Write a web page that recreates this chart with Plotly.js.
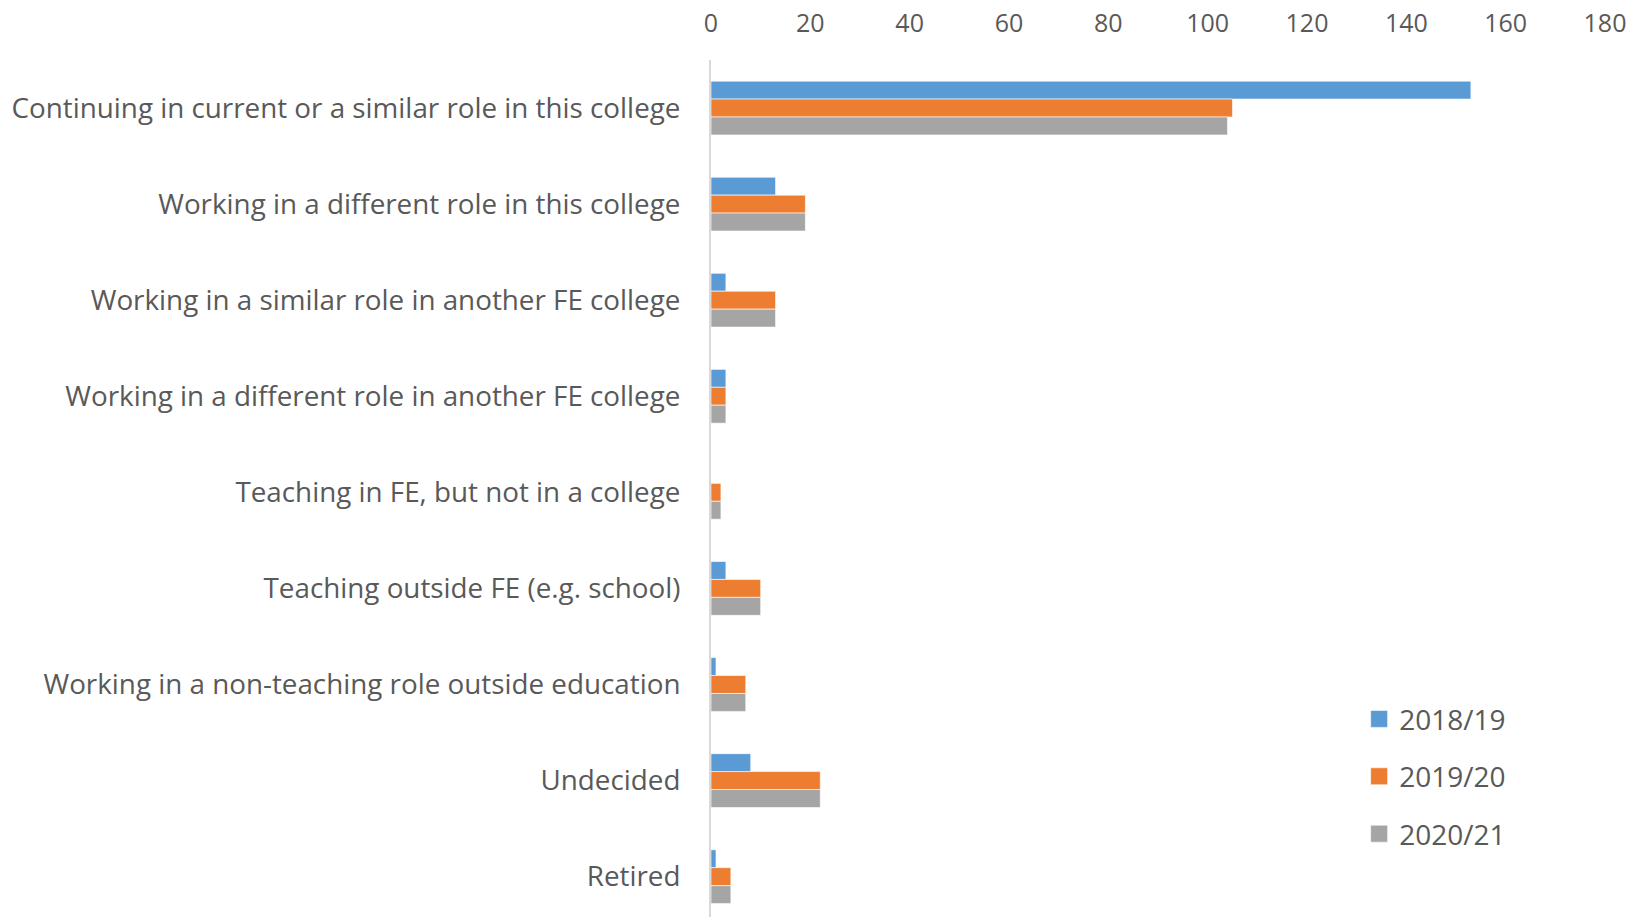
<!DOCTYPE html>
<html>
<head>
<meta charset="utf-8">
<script src="https://cdn.plot.ly/plotly-3.0.1.min.js"></script>
<style>
html,body{margin:0;padding:0;background:#fff;}
#chart{width:1646px;height:917px;}
</style>
</head>
<body>
<div id="chart"></div>
<script>
const categories = [
  "Continuing in current or a similar role in this college",
  "Working in a different role in this college",
  "Working in a similar role in another FE college",
  "Working in a different role in another FE college",
  "Teaching in FE, but not in a college",
  "Teaching outside FE (e.g. school)",
  "Working in a non-teaching role outside education",
  "Undecided",
  "Retired"
];
const seriesNames = ["2018/19", "2019/20", "2020/21"];
const values2018 = [153, 13, 3, 3, 0, 3, 1, 8, 1];
const values2019 = [105, 19, 13, 3, 2, 10, 7, 22, 4];
const values2020 = [104, 19, 13, 3, 2, 10, 7, 22, 4];
const colors = ["#5B9BD5", "#ED7D31", "#A5A5A5"];
const xTicks = [0, 20, 40, 60, 80, 100, 120, 140, 160, 180];

const allValues = [values2018, values2019, values2020];
const traces = allValues.map((vals, i) => ({
  type: "bar",
  orientation: "h",
  name: seriesNames[i],
  legendgroup: "g" + i,
  x: vals,
  y: categories,
  marker: {color: colors[i], line: {color: "rgba(255,255,255,0.6)", width: 1}},
  hoverinfo: "x+y+name"
}));

const fontFam = "'Open Sans', 'Noto Sans', sans-serif";
const layout = {
  width: 1646,
  height: 917,
  paper_bgcolor: "#fff",
  plot_bgcolor: "#fff",
  barmode: "group",
  bargap: 0.44,
  bargroupgap: 0,
  margin: {l: 711, r: 41, t: 60, b: 0, pad: 0},
  font: {family: fontFam, size: 28, color: "#595959"},
  xaxis: {
    side: "top",
    range: [0, 180],
    tickvals: xTicks,
    ticktext: xTicks.map(String),
    showgrid: false,
    zeroline: false,
    showline: false,
    ticks: "outside",
    ticklen: 17,
    tickcolor: "rgba(0,0,0,0)",
    tickfont: {family: fontFam, size: 25, color: "#595959"},
    fixedrange: true
  },
  yaxis: {
    type: "category",
    categoryorder: "array",
    categoryarray: categories,
    range: [8.42, -0.5],
    showgrid: false,
    zeroline: false,
    showline: true,
    linecolor: "#D9D9D9",
    linewidth: 2,
    ticks: "outside",
    ticklen: 23,
    tickcolor: "rgba(0,0,0,0)",
    tickfont: {family: fontFam, size: 27.8, color: "#595959"},
    fixedrange: true
  },
  showlegend: true,
  legend: {
    x: 0.725,
    xanchor: "left",
    y: 0.26,
    yanchor: "top",
    traceorder: "grouped",
    tracegroupgap: 18,
    bgcolor: "rgba(0,0,0,0)",
    font: {family: fontFam, size: 28, color: "#595959"}
  }
};

Plotly.newPlot("chart", traces, layout, {displayModeBar: false, staticPlot: true}).then(gd => {
  gd.querySelectorAll(".legendpoints path").forEach(p => {
    p.setAttribute("d", "M8.5,8.5H-8.5V-8.5H8.5Z");
  });
});
</script>
</body>
</html>
